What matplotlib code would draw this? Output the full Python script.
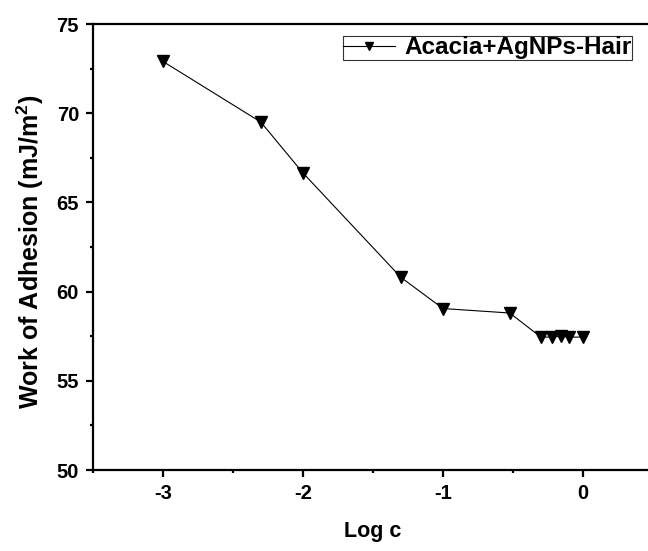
import matplotlib
matplotlib.use("Agg")
import matplotlib.pyplot as plt
from matplotlib.ticker import MultipleLocator

plt.rcParams['font.family'] = ['Liberation Sans', 'DejaVu Sans']
plt.rcParams['font.weight'] = 'bold'
plt.rcParams['axes.unicode_minus'] = False
plt.rcParams['mathtext.fontset'] = 'custom'
plt.rcParams['mathtext.bf'] = 'Liberation Sans:bold'
plt.rcParams['mathtext.rm'] = 'Liberation Sans:bold'

log_c = [-3.0, -2.301, -2.0, -1.301, -1.0, -0.523, -0.301, -0.222, -0.155, -0.097, 0.0]
work_adhesion = [72.9, 69.5, 66.65, 60.8, 59.05, 58.8, 57.45, 57.45, 57.5, 57.45, 57.45]
series_label = "Acacia+AgNPs-Hair"

fig = plt.figure(figsize=(6.48, 5.51), dpi=100)
ax = fig.add_axes([93/648, 1-470/551, 560/648, 446/551])

ax.plot(log_c, work_adhesion, color='black', lw=0.8, marker='v', ms=9,
        markerfacecolor='black', markeredgecolor='black', label=series_label)

ax.set_xlim(-3.5, 0.5)
ax.set_ylim(50, 75)
ax.xaxis.set_major_locator(MultipleLocator(1))
ax.xaxis.set_minor_locator(MultipleLocator(0.5))
ax.yaxis.set_major_locator(MultipleLocator(5))
ax.yaxis.set_minor_locator(MultipleLocator(2.5))

for s in ax.spines.values():
    s.set_linewidth(1.6)

ax.tick_params(which='major', direction='out', length=5, width=1.6, labelsize=14.5, pad=5)
ax.tick_params(which='minor', direction='out', length=2.5, width=1.6)
for lab in ax.get_xticklabels() + ax.get_yticklabels():
    lab.set_fontweight('bold')

ax.set_xlabel("Log c", fontsize=15.5, fontweight='bold', labelpad=13)
ax.set_ylabel("Work of Adhesion (mJ/m$^\\mathbf{2}$)", fontsize=18, fontweight='bold')
ax.yaxis.set_label_coords(-(93 - 46) / 560, 0.49)

leg = ax.legend(loc='upper left', bbox_to_anchor=(343/648, 1-36/551), bbox_transform=fig.transFigure,
                frameon=True, fancybox=False, edgecolor='black', handlelength=2.1,
                handletextpad=0.4, borderpad=0.02, borderaxespad=0,
                prop={'weight': 'bold', 'size': 17.5}, markerscale=0.7)
leg.get_frame().set_linewidth(0.8)

fig.savefig("out.png", dpi=100)
